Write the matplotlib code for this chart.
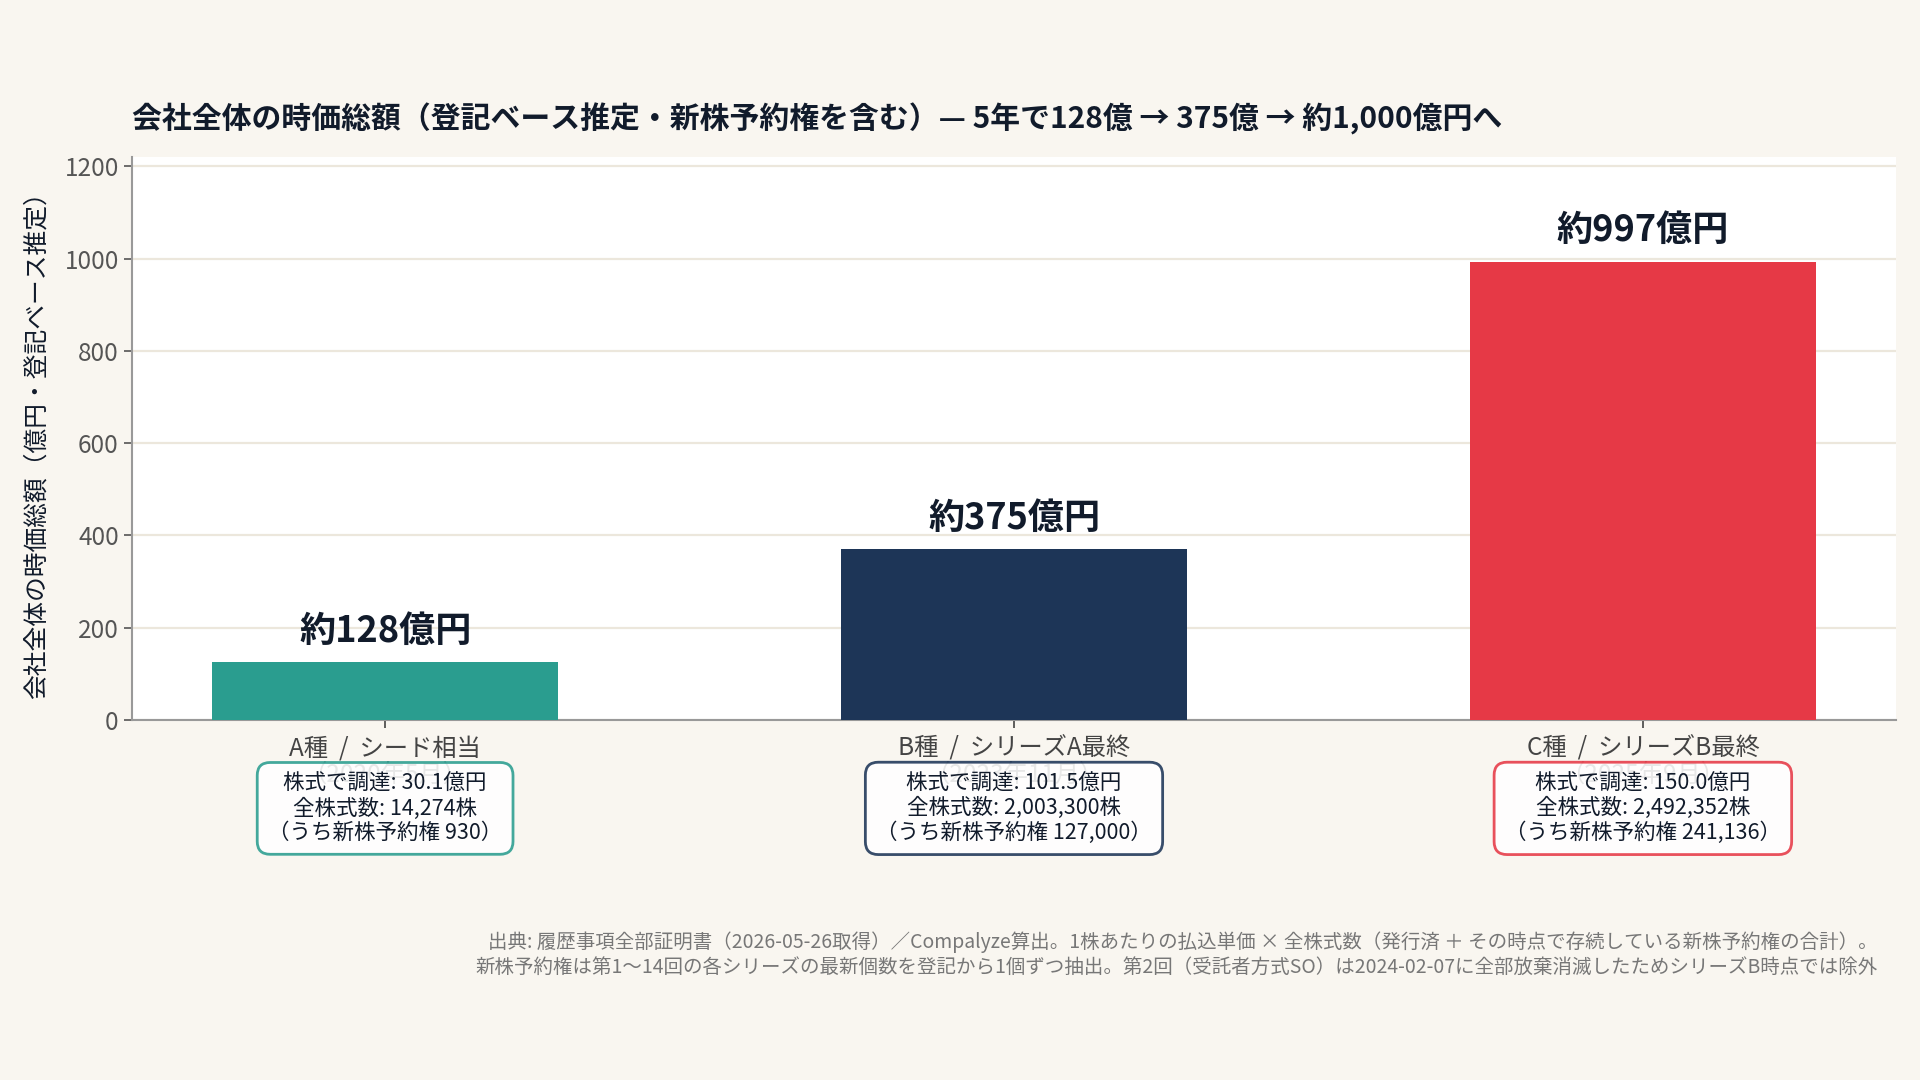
"""会社全体の時価総額（登記ベース推定）— A種 / B種 / C種 の3時点比較."""

import matplotlib
matplotlib.use("Agg")
import matplotlib.pyplot as plt
import matplotlib.transforms as mtransforms

plt.rcParams["font.family"] = ["Noto Sans CJK JP", "DejaVu Sans"]

# --- data -------------------------------------------------------------
rounds = ["A種 / シード相当", "B種 / シリーズA最終", "C種 / シリーズB最終"]
dates = ["（2020年5月）", "（2023年11月）", "（2025年9月）"]
market_cap = [125, 370, 993]          # 億円 (bar heights)
cap_labels = ["約128億円", "約375億円", "約997億円"]
raised = ["30.1", "101.5", "150.0"]    # 株式で調達 (億円)
total_shares = ["14,274", "2,003,300", "2,492,352"]
warrants = ["930", "127,000", "241,136"]
colors = ["#2a9d8f", "#1d3557", "#e63946"]

BG = "#f9f6f0"
INK = "#111b2b"

fig = plt.figure(figsize=(19.2, 10.8), dpi=100, facecolor=BG)
ax = fig.add_axes([0.06875, 0.3333, 0.91875, 0.5211])
ax.set_facecolor("white")

x = list(range(len(rounds)))
bars = ax.bar(x, market_cap, width=0.55, color=colors, zorder=3)

ax.set_ylim(0, max(market_cap) * 1.228)
ax.set_yticks([0, 200, 400, 600, 800, 1000, 1200])
ax.grid(True, axis="y", color="#ece7dc", linewidth=1.6, zorder=0)
ax.set_axisbelow(True)

for s in ("top", "right"):
    ax.spines[s].set_visible(False)
for s in ("left", "bottom"):
    ax.spines[s].set_color("#999999")
    ax.spines[s].set_linewidth(1.5)

ax.tick_params(axis="y", labelsize=17.5, colors="#555555", length=6, width=1.2)
ax.tick_params(axis="x", labelsize=17.5, colors="#444444", length=6, width=1.2,
               pad=5)
ax.set_xticks(x)
ax.set_xticklabels([f"{r.replace(' / ', '  /  ')}\n{d}"
                    for r, d in zip(rounds, dates)],
                   linespacing=1.05)

ax.set_ylabel("会社全体の時価総額（億円・登記ベース推定）", fontsize=17.8,
              color=INK, labelpad=11)

# value labels over the bars
for b, lab in zip(bars, cap_labels):
    ax.annotate(lab, (b.get_x() + b.get_width() / 2, b.get_height()),
                xytext=(0, 9), textcoords="offset points",
                ha="center", va="bottom", fontsize=26, fontweight="bold",
                color=INK, zorder=5)

# detail boxes under each category (semi-opaque, the date line shows through)
trans = mtransforms.blended_transform_factory(ax.transData, ax.transAxes)
for i in x:
    txt = (f"株式で調達: {raised[i]}億円\n"
           f"全株式数: {total_shares[i]}株\n"
           f"（うち新株予約権 {warrants[i]}）")
    ax.text(i, -0.157, txt, transform=trans, ha="center", va="center",
            fontsize=15.5, color=INK, linespacing=1.12, zorder=6,
            clip_on=False,
            bbox=dict(boxstyle="round,pad=0.5,rounding_size=0.6",
                      facecolor="white", edgecolor=colors[i], linewidth=2,
                      alpha=0.88))

fig.text(0.06875, 0.890,
         "会社全体の時価総額（登記ベース推定・新株予約権を含む）— "
         "5年で128億 → 375億 → 約1,000億円へ",
         ha="left", va="center", fontsize=21.5, fontweight="bold", color=INK)

fig.text(0.978, 0.116,
         "出典: 履歴事項全部証明書（2026-05-26取得）／Compalyze算出。"
         "1株あたりの払込単価 × 全株式数（発行済 ＋ その時点で存続している新株予約権の合計）。\n"
         "新株予約権は第1〜14回の各シリーズの最新個数を登記から1個ずつ抽出。"
         "第2回（受託者方式SO）は2024-02-07に全部放棄消滅したためシリーズB時点では除外",
         ha="right", va="center", fontsize=14, color="#777777",
         linespacing=1.2)

fig.savefig("out.png", dpi=100, facecolor=BG)
